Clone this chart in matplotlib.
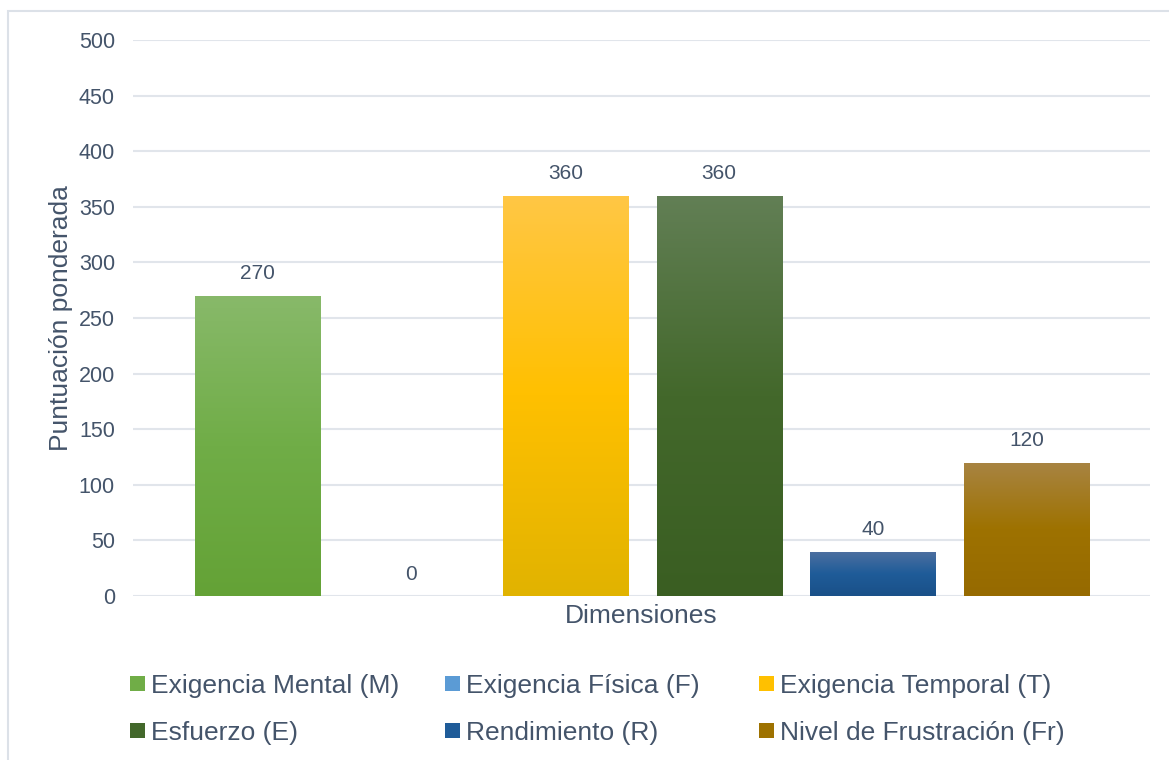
import numpy as np
import matplotlib
matplotlib.use("Agg")
import matplotlib.pyplot as plt
from matplotlib.patches import Rectangle
from matplotlib.colors import to_rgb

plt.rcParams["font.family"] = ["Liberation Sans", "DejaVu Sans"]

# Data
series = [
    "Exigencia Mental (M)",
    "Exigencia Física (F)",
    "Exigencia Temporal (T)",
    "Esfuerzo (E)",
    "Rendimiento (R)",
    "Nivel de Frustración (Fr)",
]
values = [270, 0, 360, 360, 40, 120]
category = "Dimensiones"
y_ticks = [0, 50, 100, 150, 200, 250, 300, 350, 400, 450, 500]

# Gradient stops per series: top, middle, bottom
grad_top = ["#88B96A", "#7FAEE0", "#FFC745", "#627F55", "#4E70A0", "#A88443"]
grad_mid = ["#70AD47", "#5B9BD5", "#FFC000", "#43682B", "#1F5C99", "#9E7200"]
grad_bot = ["#64A236", "#4A8BC8", "#E1B300", "#3A5E22", "#1A5088", "#966A00"]

TEXT = "#44546A"
GRID = "#E1E5EB"

W, H = 1169, 760
fig = plt.figure(figsize=(W / 100, H / 100), dpi=100)

# Chart area border (open on the right and bottom edges of the figure)
fig.patches.append(Rectangle((7.5 / W, -0.2), 1.2, 1.2 - 10.5 / H, transform=fig.transFigure,
                             fill=False, edgecolor="#DCE1E8", linewidth=1.5, zorder=0))

left, right = 133 / W, 1150 / W
bottom, top = 1 - 596 / H, 1 - 40 / H
ax = fig.add_axes([left, bottom, right - left, top - bottom])

x = np.arange(len(values))
for i, (lab, v) in enumerate(zip(series, values)):
    b = ax.bar(x[i], v, width=0.814, color=grad_mid[i], label=lab, zorder=2)
    patch = b.patches[0]
    if patch.get_height() > 0:
        c_top, c_mid, c_bot = (np.array(to_rgb(c)) for c in (grad_top[i], grad_mid[i], grad_bot[i]))
        t = np.linspace(0, 1, 256)[:, None]
        upper = c_top + (c_mid - c_top) * np.clip(t / 0.5, 0, 1)
        lower = c_mid + (c_bot - c_mid) * np.clip((t - 0.5) / 0.5, 0, 1)
        grad = np.where(t <= 0.5, upper, lower)[:, None, :]
        x0 = patch.get_x()
        im = ax.imshow(grad, extent=[x0, x0 + patch.get_width(), patch.get_y(),
                                     patch.get_y() + patch.get_height()],
                       origin="upper", aspect="auto", zorder=3, interpolation="bilinear")
        im.set_clip_path(patch)
    ax.bar_label(b, labels=[f"{v:g}"], padding=9, fontsize=15, color=TEXT)

ax.set_xlim(-0.81, 5.80)
ax.set_ylim(0, 500)
ax.set_yticks(y_ticks)
ax.set_xticks([])
ax.tick_params(axis="y", length=0, pad=13, labelsize=15.5, labelcolor=TEXT)
ax.grid(axis="y", color=GRID, linewidth=1.5, zorder=0)
ax.set_axisbelow(True)
for s in ax.spines.values():
    s.set_visible(False)

ax.set_xlabel(category, fontsize=19, color=TEXT, labelpad=6)
ax.set_ylabel("Puntuación ponderada", fontsize=19, color=TEXT, labelpad=4)

# Legend in three columns
handles, labels = ax.get_legend_handles_labels()
col_x = [130, 445, 759]
for c in range(3):
    idx = [c, c + 3]
    fig.legend([handles[k] for k in idx], [labels[k] for k in idx],
               loc="center left", bbox_to_anchor=(col_x[c] / W, 1 - 709.5 / H),
               frameon=False, fontsize=19, handlelength=0.55, handleheight=0.52,
               handletextpad=0.24, labelspacing=0.86, borderpad=0, borderaxespad=0,
               labelcolor=TEXT)

fig.savefig("out.png", dpi=100)
